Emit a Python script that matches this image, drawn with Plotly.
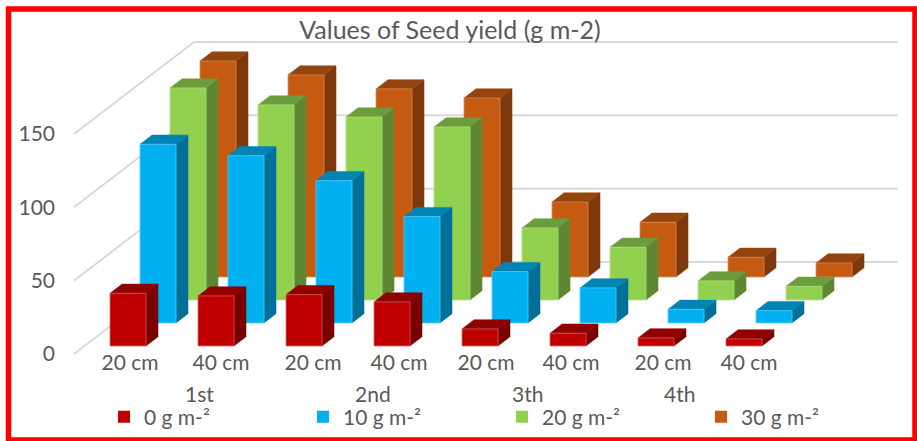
import plotly.graph_objects as go

# ---- data ----
distances = ["20 cm", "40 cm", "20 cm", "40 cm", "20 cm", "40 cm", "20 cm", "40 cm"]
groups = ["1st", "2nd", "3th", "4th"]
series_names = ["0 g m-²", "10 g m-²", "20 g m-²", "30 g m-²"]
yield_0 = [35.9, 34.1, 35.0, 30.0, 11.6, 8.7, 5.5, 4.8]
yield_10 = [121.8, 114.0, 97.0, 72.5, 35.0, 23.9, 9.3, 8.4]
yield_20 = [144.5, 132.9, 124.7, 117.9, 49.1, 35.9, 13.0, 9.3]
yield_30 = [147.2, 137.7, 128.2, 122.0, 51.1, 37.3, 13.4, 9.5]
y_ticks = [0, 50, 100, 150]

# ---- styles ----
front = ["#C00000", "#00B0F0", "#92D050", "#C55A11"]
top = ["#900000", "#0084B4", "#6D9C3C", "#94440D"]
side = ["#7A0000", "#006F99", "#5F8732", "#7D390B"]
edge = ["#D06060", "#50CCF5", "#B0DE80", "#D88850"]
TEXT = "#595959"
FONT = "Lato, Carlito, sans-serif"

# ---- layout geometry (pixels) ----
W, H = 917, 441
L = 56
PX_CAT, PX_VAL = 88.0, 1.467
ORIGIN_X, ORIGIN_Y = 74.0, 354.0
DEPTH_X, DEPTH_Y = 30.0 / PX_CAT, 23.0 / PX_VAL  # one depth step in data units
BAR_W = 36.0 / PX_CAT
BAR_D = 0.4
BAR_OFF = 0.29
DEPTH_OFF = 0.35


def project(cat, val, depth):
    return cat + depth * DEPTH_X, val + depth * DEPTH_Y


def polys(points_fn, values, s):
    xs, ys = [], []
    for i, v in enumerate(values):
        for c, h, d in points_fn(i + BAR_OFF, v, s + DEPTH_OFF):
            x, y = project(c, h, d)
            xs.append(x)
            ys.append(y)
        xs.append(None)
        ys.append(None)
    return xs, ys


def front_face(c, v, d):
    return [(c, 0, d), (c + BAR_W, 0, d), (c + BAR_W, v, d), (c, v, d), (c, 0, d)]


def side_face(c, v, d):
    e = c + BAR_W
    return [(e, 0, d), (e, 0, d + BAR_D), (e, v, d + BAR_D), (e, v, d), (e, 0, d)]


def top_face(c, v, d):
    e = c + BAR_W
    return [(c, v, d), (e, v, d), (e, v, d + BAR_D), (c, v, d + BAR_D), (c, v, d)]


fig = go.Figure()

# walls: gridlines run from the front-left edge to the back wall, then across
gx, gy = [], []
for v in y_ticks:
    for c, d in [(0, 0), (0, 4), (len(distances), 4), (None, None)]:
        if c is None:
            gx.append(None)
            gy.append(None)
        else:
            x, y = project(c, v, d)
            gx.append(x)
            gy.append(y)
fig.add_trace(go.Scatter(x=gx, y=gy, mode="lines", showlegend=False, hoverinfo="skip",
                         line=dict(color="#D9D9D9", width=2)))

all_series = [yield_0, yield_10, yield_20, yield_30]
for s in reversed(range(4)):
    vals = all_series[s]
    for fn, col, lc, w in [(side_face, side[s], side[s], 0.5),
                           (top_face, top[s], top[s], 0.5),
                           (front_face, front[s], edge[s], 0.8)]:
        xs, ys = polys(fn, vals, s)
        fig.add_trace(go.Scatter(x=xs, y=ys, mode="lines", fill="toself", fillcolor=col,
                                 line=dict(color=lc, width=w), showlegend=False,
                                 name=series_names[s], hoverinfo="skip"))

# legend keys
for s in range(4):
    fig.add_trace(go.Scatter(x=[None], y=[None], mode="markers", name=series_names[s],
                             marker=dict(symbol="square", size=15, color=front[s])))

label_px = [130, 221, 313, 399, 486, 571, 663, 749]
group_px = [199, 373, 527, 679]
plot_w = W - L


def paper_x(px):
    return (px - L) / plot_w


def paper_y(py):
    return (H - py) / H


for name, px in zip(groups, group_px):
    fig.add_annotation(text=name, xref="paper", yref="paper", x=paper_x(px), y=paper_y(393),
                       xanchor="center", yanchor="middle", showarrow=False,
                       font=dict(family=FONT, size=21, color=TEXT))

fig.add_shape(type="rect", xref="paper", yref="paper", layer="above",
              x0=paper_x(8.5), x1=paper_x(915), y0=paper_y(9), y1=paper_y(440),
              line=dict(color="#FF0000", width=5.5), fillcolor="rgba(0,0,0,0)")

fig.update_layout(
    width=W, height=H, autosize=False,
    margin=dict(l=L, r=0, t=0, b=0, pad=0),
    paper_bgcolor="white", plot_bgcolor="rgba(0,0,0,0)",
    font=dict(family=FONT, size=21, color=TEXT),
    title=dict(text="Values of Seed yield (g m-2)", xref="container", yref="container",
               x=450 / W, y=1 - 30 / H, xanchor="center", yanchor="middle",
               font=dict(family=FONT, size=25, color=TEXT)),
    xaxis=dict(range=[(L - ORIGIN_X) / PX_CAT, (W - ORIGIN_X) / PX_CAT],
               tickmode="array",
               tickvals=[(p - ORIGIN_X) / PX_CAT for p in label_px],
               ticktext=distances, showgrid=False, zeroline=False, showline=False,
               ticks="outside", ticklen=1, tickcolor="rgba(0,0,0,0)",
               anchor="free", position=paper_y(343)),
    yaxis=dict(range=[(ORIGIN_Y - H) / PX_VAL, ORIGIN_Y / PX_VAL], tickmode="array", tickvals=y_ticks,
               showgrid=False, zeroline=False, showline=False, ticks=""),
    legend=dict(orientation="h", x=paper_x(104), y=paper_y(417), xanchor="left", yanchor="middle",
                entrywidth=154, entrywidthmode="pixels", itemsizing="constant",
                bgcolor="rgba(0,0,0,0)", font=dict(family=FONT, size=21, color=TEXT)),
)

fig.write_html("out.html", post_script="document.body.style.margin='0';",
               config={"displayModeBar": False})
